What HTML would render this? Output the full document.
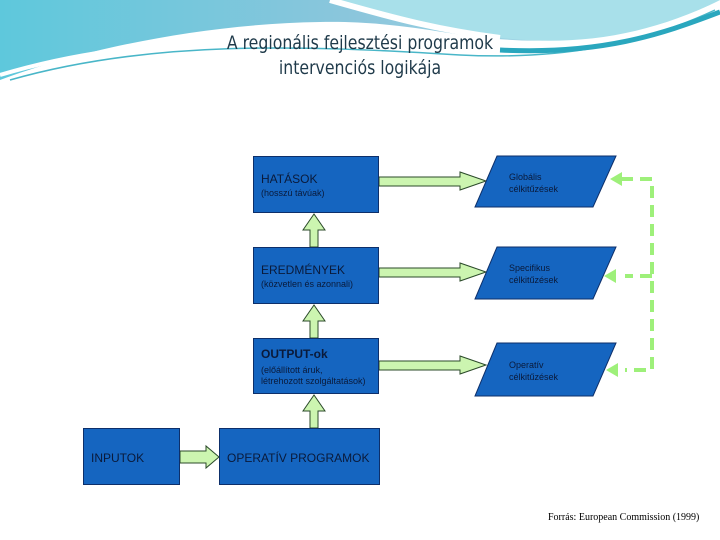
<!DOCTYPE html>
<html><head><meta charset="utf-8"><style>
body{margin:0;width:720px;height:540px;overflow:hidden;background:#fff;position:relative;font-family:"Liberation Sans",sans-serif}
.b{position:absolute;background:#1565c0;border:1px solid #0d2f6a;box-sizing:border-box;color:#0a1a3a}
.t{position:absolute;font-size:12px;color:#0a1a3a}
.s{position:absolute;font-size:9px;color:#0a1a3a}
</style></head><body>
<svg width="720" height="540" style="position:absolute;left:0;top:0">
<defs><linearGradient id="g" x1="0" y1="0" x2="1" y2="0"><stop offset="0" stop-color="#5ec8dc"/><stop offset="0.5" stop-color="#8cc6dc"/><stop offset="1" stop-color="#b8e6ee"/></linearGradient></defs>
<path d="M0 0H720V0 C700 10 660 30 560 40 C470 45 420 20 320 22 C200 24 80 50 0 80Z" fill="url(#g)"/>
<path d="M330 0 C380 10 420 25 480 35 C560 48 640 40 720 0Z" fill="#a8e0ea"/>
<path d="M330 0 C400 20 440 30 500 38" stroke="#fff" stroke-width="6" fill="none"/>
<path d="M0 75 C150 30 300 40 460 50 C560 56 640 40 720 5" stroke="#fff" stroke-width="4" fill="none"/>
<path d="M10 80 C150 40 300 45 460 55 C560 60 640 45 715 10" stroke="#49b6c8" stroke-width="1.5" fill="none"/>
<path d="M500 50 C600 55 660 35 720 12" stroke="#2aa7be" stroke-width="5" fill="none"/>
<g fill="#ccf5b0" stroke="#2b4a2a" stroke-width="1">
<path d="M379 177H460V172L486 181L460 190V186H379Z"/>
<path d="M379 268H460V263L486 272L460 281V277H379Z"/>
<path d="M379 361H460V356L486 365L460 374V370H379Z"/>
<path d="M180 451H206V446L219 457L206 468V463H180Z"/>
<path d="M310 247V230H303L314 214L325 230H318V247Z"/>
<path d="M310 338V321H303L314 305L325 321H318V338Z"/>
<path d="M310 428V411H303L314 395L325 411H318V428Z"/>
</g>
<g fill="#1565c0" stroke="#0d2f6a">
<path d="M497 156H616L593 207H475Z"/>
<path d="M497 247H616L593 299H475Z"/>
<path d="M497 343H616L593 396H475Z"/>
</g>
<g stroke="#9ef07a" stroke-width="4" fill="none" stroke-dasharray="12,7">
<path d="M621 179H652V370H625"/><path d="M652 276H625"/>
</g>
<g fill="#9ef07a"><path d="M610 179L622 172V186Z"/><path d="M604 276L616 269V283Z"/><path d="M606 370L618 363V377Z"/></g>
</svg>
<div style="position:absolute;left:0;width:720px;top:31px;text-align:center;font-size:19px;line-height:25px;color:#1f3a4a;font-family:'DejaVu Sans Condensed','Liberation Sans Narrow','Liberation Sans',sans-serif;transform:scaleX(0.92)">A regionális fejlesztési programok<br>intervenciós logikája</div>
<div class="b" style="left:253px;top:156px;width:126px;height:57px"></div>
<div class="b" style="left:253px;top:247px;width:126px;height:57px"></div>
<div class="b" style="left:253px;top:338px;width:126px;height:56px"></div>
<div class="b" style="left:83px;top:428px;width:97px;height:57px"></div>
<div class="b" style="left:219px;top:428px;width:161px;height:57px"></div>
<div class="t" style="left:261px;top:172px">HATÁSOK</div>
<div class="s" style="left:261px;top:188px">(hosszú távúak)</div>
<div class="t" style="left:261px;top:263px">EREDMÉNYEK</div>
<div class="s" style="left:261px;top:279px">(közvetlen és azonnali)</div>
<div class="t" style="left:261px;top:347px;font-weight:bold">OUTPUT-ok</div>
<div class="s" style="left:261px;top:365px;line-height:11px">(előállított áruk,<br>létrehozott szolgáltatások)</div>
<div class="t" style="left:91px;top:451px">INPUTOK</div>
<div class="t" style="left:227px;top:451px">OPERATÍV PROGRAMOK</div>
<div class="s" style="left:509px;top:171px;line-height:12px">Globális<br>célkitűzések</div>
<div class="s" style="left:509px;top:262px;line-height:12px">Specifikus<br>célkitűzések</div>
<div class="s" style="left:509px;top:359px;line-height:12px">Operatív<br>célkitűzések</div>
<div style="position:absolute;left:548px;top:512px;font-size:10px;font-family:'Liberation Serif',serif;color:#000">Forrás: European Commission (1999)</div>
</body></html>
